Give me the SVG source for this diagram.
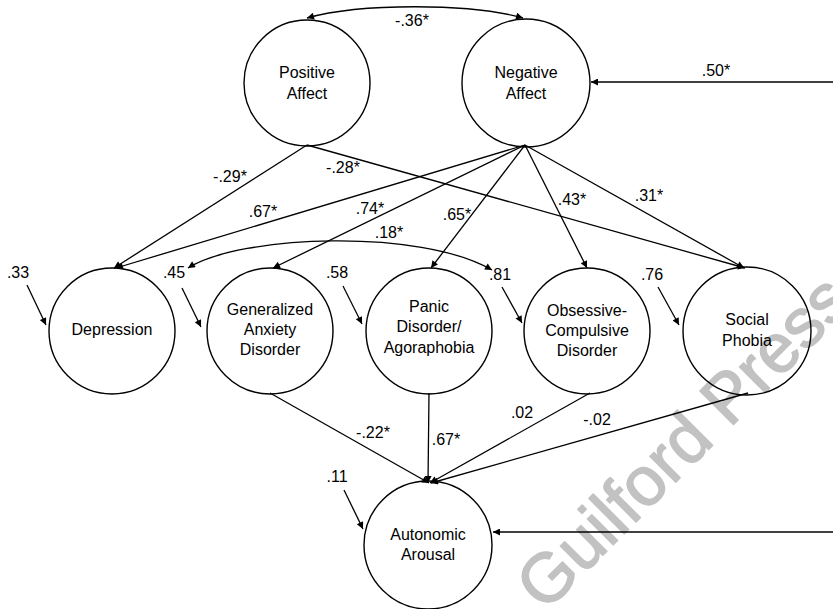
<svg xmlns="http://www.w3.org/2000/svg" width="833" height="609" viewBox="0 0 833 609">
<style>
.n{fill:none;stroke:#000;stroke-width:1.4}
.t{font-family:"Liberation Sans",Arial,sans-serif;font-size:16px;fill:#000;text-anchor:middle}
.c{fill:none;stroke:#000;stroke-width:1.3}
.wm{font-family:"Liberation Sans",Arial,sans-serif;font-size:69px;fill:#c2c2c2;stroke:#c2c2c2;stroke-width:1.5;stroke-linejoin:round}
</style>
<defs>
<marker id="ah" viewBox="0 0 10 10" refX="10" refY="5" markerWidth="9" markerHeight="7" markerUnits="userSpaceOnUse" orient="auto-start-reverse">
<path d="M0,0 L10,5 L0,10 z" fill="#000"/>
</marker>
</defs>
<rect width="833" height="609" fill="#fff"/>
<text class="wm" transform="translate(545,613) rotate(-45)">Guilford Press</text>
<g id="connectors">
<path class="c" d="M307,18 C360,3 470,3 523,18" marker-start="url(#ah)" marker-end="url(#ah)"/>
<line class="c" x1="833" y1="82" x2="591" y2="82" marker-end="url(#ah)"/>
<line class="c" x1="307" y1="145" x2="114" y2="268" marker-end="url(#ah)"/>
<line class="c" x1="307" y1="145" x2="745" y2="268" marker-end="url(#ah)"/>
<line class="c" x1="525" y1="145" x2="116" y2="268" marker-end="url(#ah)"/>
<line class="c" x1="525" y1="145" x2="273" y2="268" marker-end="url(#ah)"/>
<line class="c" x1="525" y1="145" x2="431" y2="268" marker-end="url(#ah)"/>
<line class="c" x1="525" y1="145" x2="587" y2="268" marker-end="url(#ah)"/>
<line class="c" x1="525" y1="145" x2="744" y2="268" marker-end="url(#ah)"/>
<path class="c" d="M188,268 C240,235 420,228 492,270" marker-start="url(#ah)" marker-end="url(#ah)"/>
<line class="c" x1="27" y1="285" x2="46" y2="325" marker-end="url(#ah)"/>
<line class="c" x1="182" y1="288" x2="201" y2="327" marker-end="url(#ah)"/>
<line class="c" x1="343" y1="286" x2="362" y2="324" marker-end="url(#ah)"/>
<line class="c" x1="502" y1="287" x2="522" y2="323" marker-end="url(#ah)"/>
<line class="c" x1="658" y1="287" x2="679" y2="325" marker-end="url(#ah)"/>
<line class="c" x1="344" y1="490" x2="363" y2="529" marker-end="url(#ah)"/>
<line class="c" x1="270" y1="393" x2="429" y2="483" marker-end="url(#ah)"/>
<line class="c" x1="429" y1="393" x2="428" y2="483" marker-end="url(#ah)"/>
<line class="c" x1="590" y1="393" x2="430" y2="483" marker-end="url(#ah)"/>
<line class="c" x1="748" y1="393" x2="431" y2="483" marker-end="url(#ah)"/>
<line class="c" x1="833" y1="532" x2="493" y2="532" marker-end="url(#ah)"/>
</g>
<g id="labels">
<text class="t" x="412" y="26">-.36*</text>
<text class="t" x="716" y="76">.50*</text>
<text class="t" x="230" y="182">-.29*</text>
<text class="t" x="343" y="173">-.28*</text>
<text class="t" x="263" y="217">.67*</text>
<text class="t" x="370" y="214">.74*</text>
<text class="t" x="389" y="238">.18*</text>
<text class="t" x="457" y="220">.65*</text>
<text class="t" x="572" y="205">.43*</text>
<text class="t" x="649" y="201">.31*</text>
<text class="t" x="18" y="278">.33</text>
<text class="t" x="174" y="278">.45</text>
<text class="t" x="337" y="278">.58</text>
<text class="t" x="500" y="280">.81</text>
<text class="t" x="652" y="280">.76</text>
<text class="t" x="373" y="438">-.22*</text>
<text class="t" x="446" y="445">.67*</text>
<text class="t" x="522" y="418">.02</text>
<text class="t" x="597" y="425">-.02</text>
<text class="t" x="337" y="482">.11</text>
</g>
<g id="positive-affect">
<circle class="n" cx="307" cy="83" r="63"/>
<text class="t" x="307" y="78">Positive</text>
<text class="t" x="307" y="99">Affect</text>
</g>
<g id="negative-affect">
<circle class="n" cx="526" cy="83" r="64"/>
<text class="t" x="526" y="78">Negative</text>
<text class="t" x="526" y="99">Affect</text>
</g>
<g id="depression">
<circle class="n" cx="112" cy="331" r="63"/>
<text class="t" x="112" y="335">Depression</text>
</g>
<g id="gad">
<circle class="n" cx="270" cy="331" r="63"/>
<text class="t" x="270" y="315">Generalized</text>
<text class="t" x="270" y="335">Anxiety</text>
<text class="t" x="270" y="355">Disorder</text>
</g>
<g id="panic">
<circle class="n" cx="429" cy="331" r="63"/>
<text class="t" x="429" y="312">Panic</text>
<text class="t" x="429" y="332">Disorder/</text>
<text class="t" x="429" y="353">Agoraphobia</text>
</g>
<g id="ocd">
<circle class="n" cx="587" cy="331" r="63"/>
<text class="t" x="587" y="316">Obsessive-</text>
<text class="t" x="587" y="336">Compulsive</text>
<text class="t" x="587" y="356">Disorder</text>
</g>
<g id="social-phobia">
<circle class="n" cx="747" cy="331" r="64"/>
<text class="t" x="747" y="325">Social</text>
<text class="t" x="747" y="346">Phobia</text>
</g>
<g id="autonomic-arousal">
<circle class="n" cx="428" cy="545" r="64"/>
<text class="t" x="428" y="540">Autonomic</text>
<text class="t" x="428" y="560">Arousal</text>
</g>
</svg>
